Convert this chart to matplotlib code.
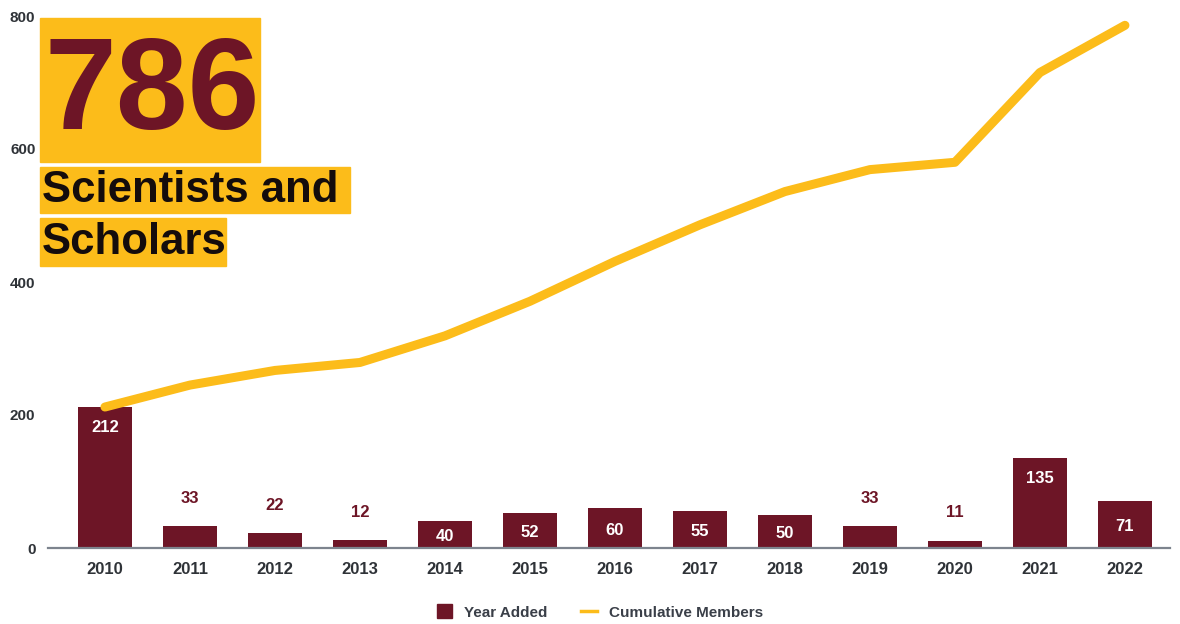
import numpy as np
import matplotlib.pyplot as plt
from matplotlib.patches import Rectangle
from matplotlib.lines import Line2D

plt.rcParams['font.family'] = ['Liberation Sans', 'DejaVu Sans']

years = ['2010', '2011', '2012', '2013', '2014', '2015', '2016',
         '2017', '2018', '2019', '2020', '2021', '2022']
added = [212, 33, 22, 12, 40, 52, 60, 55, 50, 33, 11, 135, 71]
cumulative = [212, 245, 267, 279, 319, 371, 431, 486, 536, 569, 580, 715, 786]
# labels drawn above the bar instead of inside it
outside = {'2011', '2012', '2013', '2019', '2020'}

headline = '786'
subtitle = ['Scientists and', 'Scholars']

maroon = '#6d1526'
gold = '#fcbc1a'
text_grey = '#2f3338'

W, H = 1180, 624
fig = plt.figure(figsize=(W / 100, H / 100), dpi=100)
ax = fig.add_axes([48 / W, 1 - 548 / H, 1122 / W, 532 / H])

x = np.arange(len(years))
ax.bar(x, added, width=0.64, color=maroon, zorder=2)
ax.plot(x, cumulative, color=gold, lw=6.5, solid_capstyle='round',
        solid_joinstyle='round', zorder=3)

for xi, yr, v in zip(x, years, added):
    if yr in outside:
        ax.text(xi, v + 42, str(v), ha='center', va='center', color=maroon,
                fontsize=12, fontweight='bold', zorder=4)
    else:
        ypos = v - 31 if v > 100 else v * 0.45
        ax.text(xi, ypos, str(v), ha='center', va='center', color='white',
                fontsize=12, fontweight='bold', zorder=4)

ax.set_xlim(-0.67, 12.53)
ax.set_ylim(0, 800)
ax.set_yticks([0, 200, 400, 600, 800])
ax.set_xticks(x)
ax.set_xticklabels(years)
for s in ['top', 'right', 'left']:
    ax.spines[s].set_visible(False)
ax.spines['bottom'].set_color('#7d848e')
ax.spines['bottom'].set_linewidth(1.6)
ax.tick_params(axis='both', length=0, labelcolor=text_grey)
ax.tick_params(axis='x', pad=10)
ax.tick_params(axis='y', pad=9)
for lbl in ax.get_xticklabels():
    lbl.set_fontsize(12)
    lbl.set_fontweight('bold')
for lbl in ax.get_yticklabels():
    lbl.set_fontsize(11)
    lbl.set_fontweight('bold')

# headline boxes in the top left
def px_box(x0, y0, x1, y1):
    fig.patches.append(Rectangle((x0 / W, 1 - y1 / H), (x1 - x0) / W, (y1 - y0) / H,
                                 transform=fig.transFigure, color=gold, zorder=5))

px_box(40, 18, 260, 162)
px_box(40, 167, 350, 213)
px_box(40, 218, 226, 266)
fig.text(44 / W, 1 - 96 / H, headline, color=maroon, fontsize=93,
         fontweight='bold', va='center', ha='left', zorder=6)
fig.text(42 / W, 1 - 191 / H, subtitle[0], color='#140c0c', fontsize=31.5,
         fontweight='bold', va='center', ha='left', zorder=6)
fig.text(42 / W, 1 - 242 / H, subtitle[1], color='#140c0c', fontsize=31.5,
         fontweight='bold', va='center', ha='left', zorder=6)

# legend
handles = [Rectangle((0, 0), 1, 1, color=maroon),
           Line2D([0], [0], color=gold, lw=2.5)]
leg = fig.legend(handles, ['Year Added', 'Cumulative Members'], loc='center',
                 bbox_to_anchor=(600 / W, 1 - 612 / H), ncol=2, frameon=False,
                 handlelength=1.0, handleheight=1.0, columnspacing=2.2,
                 handletextpad=0.8, prop={'weight': 'bold', 'size': 11})
for t in leg.get_texts():
    t.set_color('#3a3f48')

fig.savefig('out.png', dpi=100)
